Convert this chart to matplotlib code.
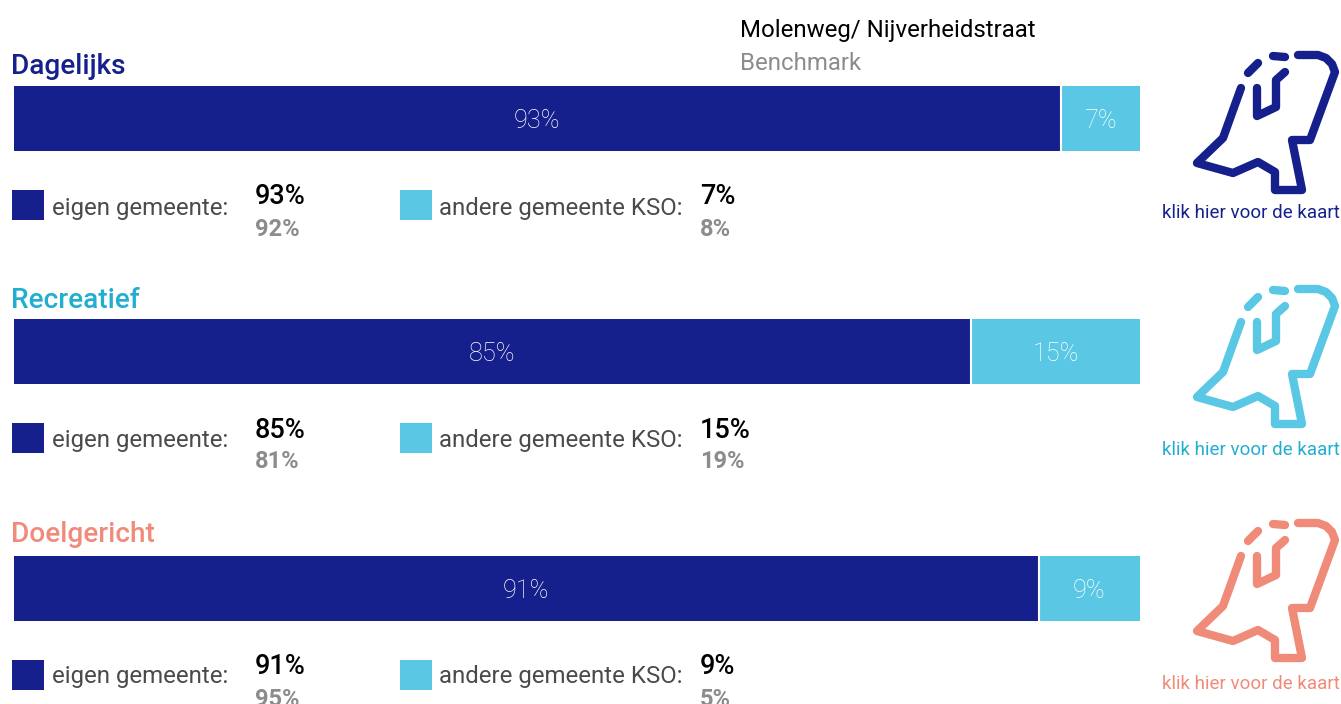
import matplotlib
matplotlib.use('Agg')
import matplotlib.pyplot as plt
from matplotlib.patches import Rectangle

plt.rcParams['font.family'] = ['Roboto', 'DejaVu Sans']

W = 1341
H = 704

titles = ['Dagelijks', 'Recreatief', 'Doelgericht']
title_colors = ['#16208c', '#22aed0', '#f08b7a']
icon_colors = ['#16208c', '#5ac8e4', '#f08b7a']
eigen = [93, 85, 91]
andere = [7, 15, 9]
eigen_bench = [92, 81, 95]
andere_bench = [8, 19, 5]

bar_tops = [86, 319, 556]
title_y = [66, 300.5, 534.5]
legend_y = [208, 441, 677]
icon_dy = [0, 234, 468]

dark = '#16208c'
light = '#5ac8e4'

fig = plt.figure(figsize=(W / 100, H / 100), dpi=100)
bg = fig.add_axes([0, 0, 1, 1])
bg.set_xlim(0, W)
bg.set_ylim(H, 0)
bg.axis('off')

# netherlands icon, reference pixels
outline = [(1298, 55), (1318, 55), (1326, 58), (1332, 64), (1335, 72), (1310, 140), (1292, 140), (1302, 190),
           (1275, 190), (1275, 172), (1258, 162), (1233, 173), (1197, 163), (1223, 138), (1241, 88)]
piece1 = [(1248, 73), (1258, 63)]
piece2 = [(1273, 56), (1285, 57)]
piece3 = [(1285, 72), (1276, 80), (1276, 107), (1257, 116), (1257, 88)]

for i in range(3):
    ax = fig.add_axes([13.5 / W, 1 - (bar_tops[i] + 65) / H, 1126.5 / W, 65 / H])
    ax.barh([0], [eigen[i]], height=1, color=dark, linewidth=0)
    ax.barh([0], [andere[i]], left=[eigen[i]], height=1, color=light, linewidth=0)
    ax.axvline(eigen[i], color='white', lw=1.5)
    ax.set_xlim(0, 100)
    ax.set_ylim(-0.5, 0.5)
    ax.axis('off')
    ax.text(eigen[i] / 2, -0.04, str(eigen[i]) + '%', color='white', fontsize=18.2, fontweight='light',
            ha='center', va='center')
    ax.text(eigen[i] + andere[i] / 2, -0.04, str(andere[i]) + '%', color='white', fontsize=18.2, fontweight='light',
            ha='center', va='center')

    bg.text(11, title_y[i], titles[i], color=title_colors[i], fontsize=20.2, fontweight='medium', va='center')

    y = legend_y[i]
    ly = [205, 438, 675][i]
    bg.add_patch(Rectangle((12, ly - 15), 32, 30, color=dark, lw=0))
    bg.text(52, y, 'eigen gemeente:', color='#4a4a4a', fontsize=17.3, va='center')
    bg.text(255, ly - 8, str(eigen[i]) + '%', color='black', fontsize=19.5, fontweight='medium', va='center')
    bg.text(255, ly + 24, str(eigen_bench[i]) + '%', color='#8c8c8c', fontsize=17, fontweight='bold', va='center')

    bg.add_patch(Rectangle((400, ly - 15), 32, 30, color=light, lw=0))
    bg.text(439, y, 'andere gemeente KSO:', color='#4a4a4a', fontsize=17.3, va='center')
    bg.text(700, ly - 8, str(andere[i]) + '%', color='black', fontsize=19.5, fontweight='medium', va='center')
    bg.text(700, ly + 24, str(andere_bench[i]) + '%', color='#8c8c8c', fontsize=17, fontweight='bold', va='center')

    for path in [outline, piece1, piece2, piece3]:
        bg.plot([p[0] for p in path], [p[1] + icon_dy[i] for p in path], color=icon_colors[i], lw=6,
                solid_capstyle='round', solid_joinstyle='round')

    bg.text(1250.5, 213 + [0, 237, 471][i], 'klik hier voor de kaart', color=title_colors[i], fontsize=13.5,
            ha='center', va='center')

bg.text(740, 30, 'Molenweg/ Nijverheidstraat', color='black', fontsize=17.3, va='center')
bg.text(740, 63, 'Benchmark', color='#8c8c8c', fontsize=17.3, va='center')

fig.savefig('out.png', dpi=100)
